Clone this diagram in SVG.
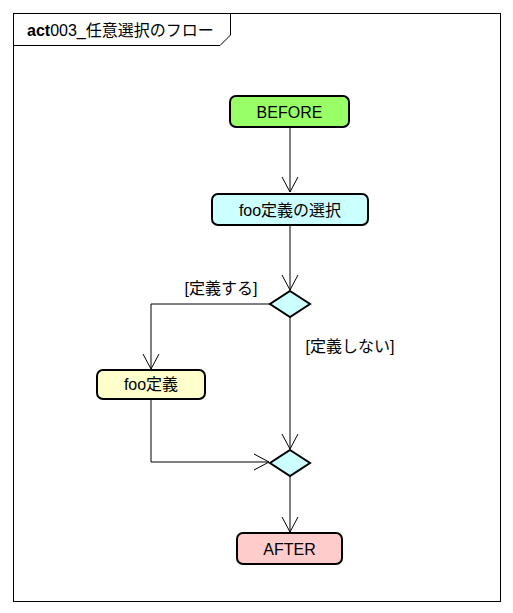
<svg xmlns="http://www.w3.org/2000/svg" width="513" height="613" viewBox="0 0 513 613">
<defs>
<style>
text{font-family:"Liberation Sans","Noto Sans CJK JP",sans-serif;font-size:16px;fill:#000}
.node{stroke:#000;stroke-width:2}
.edge{fill:none;stroke:#000;stroke-width:1}
.lbl{text-anchor:middle}
</style>
<marker id="arr" viewBox="0 0 20 20" refX="16" refY="10" markerWidth="20" markerHeight="20" markerUnits="userSpaceOnUse" orient="auto">
<path d="M1,2 L16,10 L1,18" fill="none" stroke="#000" stroke-width="1"/>
</marker>
</defs>
<rect width="513" height="613" fill="#fff"/>
<g id="frame">
<rect x="13.5" y="13.5" width="487" height="588" fill="none" stroke="#000" stroke-width="1"/>
<path d="M13.5,45.5 H220 L230.5,35 V13.5" fill="none" stroke="#000" stroke-width="1"/>
<text x="27" y="36" style="font-size:16px"><tspan font-weight="bold">act</tspan>003_任意選択のフロー</text>
</g>
<g id="connectors">
<path class="edge" d="M290,127 V192" marker-end="url(#arr)"/>
<path class="edge" d="M290,225 V290" marker-end="url(#arr)"/>
<path class="edge" d="M270,304 H151 V369" marker-end="url(#arr)"/>
<path class="edge" d="M290,317 V449" marker-end="url(#arr)"/>
<path class="edge" d="M151,399 V462 H269" marker-end="url(#arr)"/>
<path class="edge" d="M290,476 V532" marker-end="url(#arr)"/>
<text x="221" y="294" class="lbl">[定義する]</text>
<text x="350" y="352" class="lbl">[定義しない]</text>
</g>
<g id="before">
<rect class="node" x="230" y="96" width="119" height="31" rx="6" fill="#99ff66"/>
<text x="289.5" y="118" class="lbl">BEFORE</text>
</g>
<g id="select">
<rect class="node" x="212" y="194" width="156" height="31" rx="6" fill="#ccffff"/>
<text x="290" y="216" class="lbl">foo定義の選択</text>
</g>
<g id="decision1">
<polygon class="node" points="290,291 310,304 290,317 270,304" fill="#ccffff"/>
</g>
<g id="define">
<rect class="node" x="97" y="370" width="108" height="29" rx="6" fill="#ffffcc"/>
<text x="151" y="390" class="lbl">foo定義</text>
</g>
<g id="decision2">
<polygon class="node" points="290,450 310,463 290,476 270,463" fill="#ccffff"/>
</g>
<g id="after">
<rect class="node" x="237" y="533" width="105" height="31" rx="6" fill="#ffcccc"/>
<text x="289.5" y="555" class="lbl">AFTER</text>
</g>
</svg>
